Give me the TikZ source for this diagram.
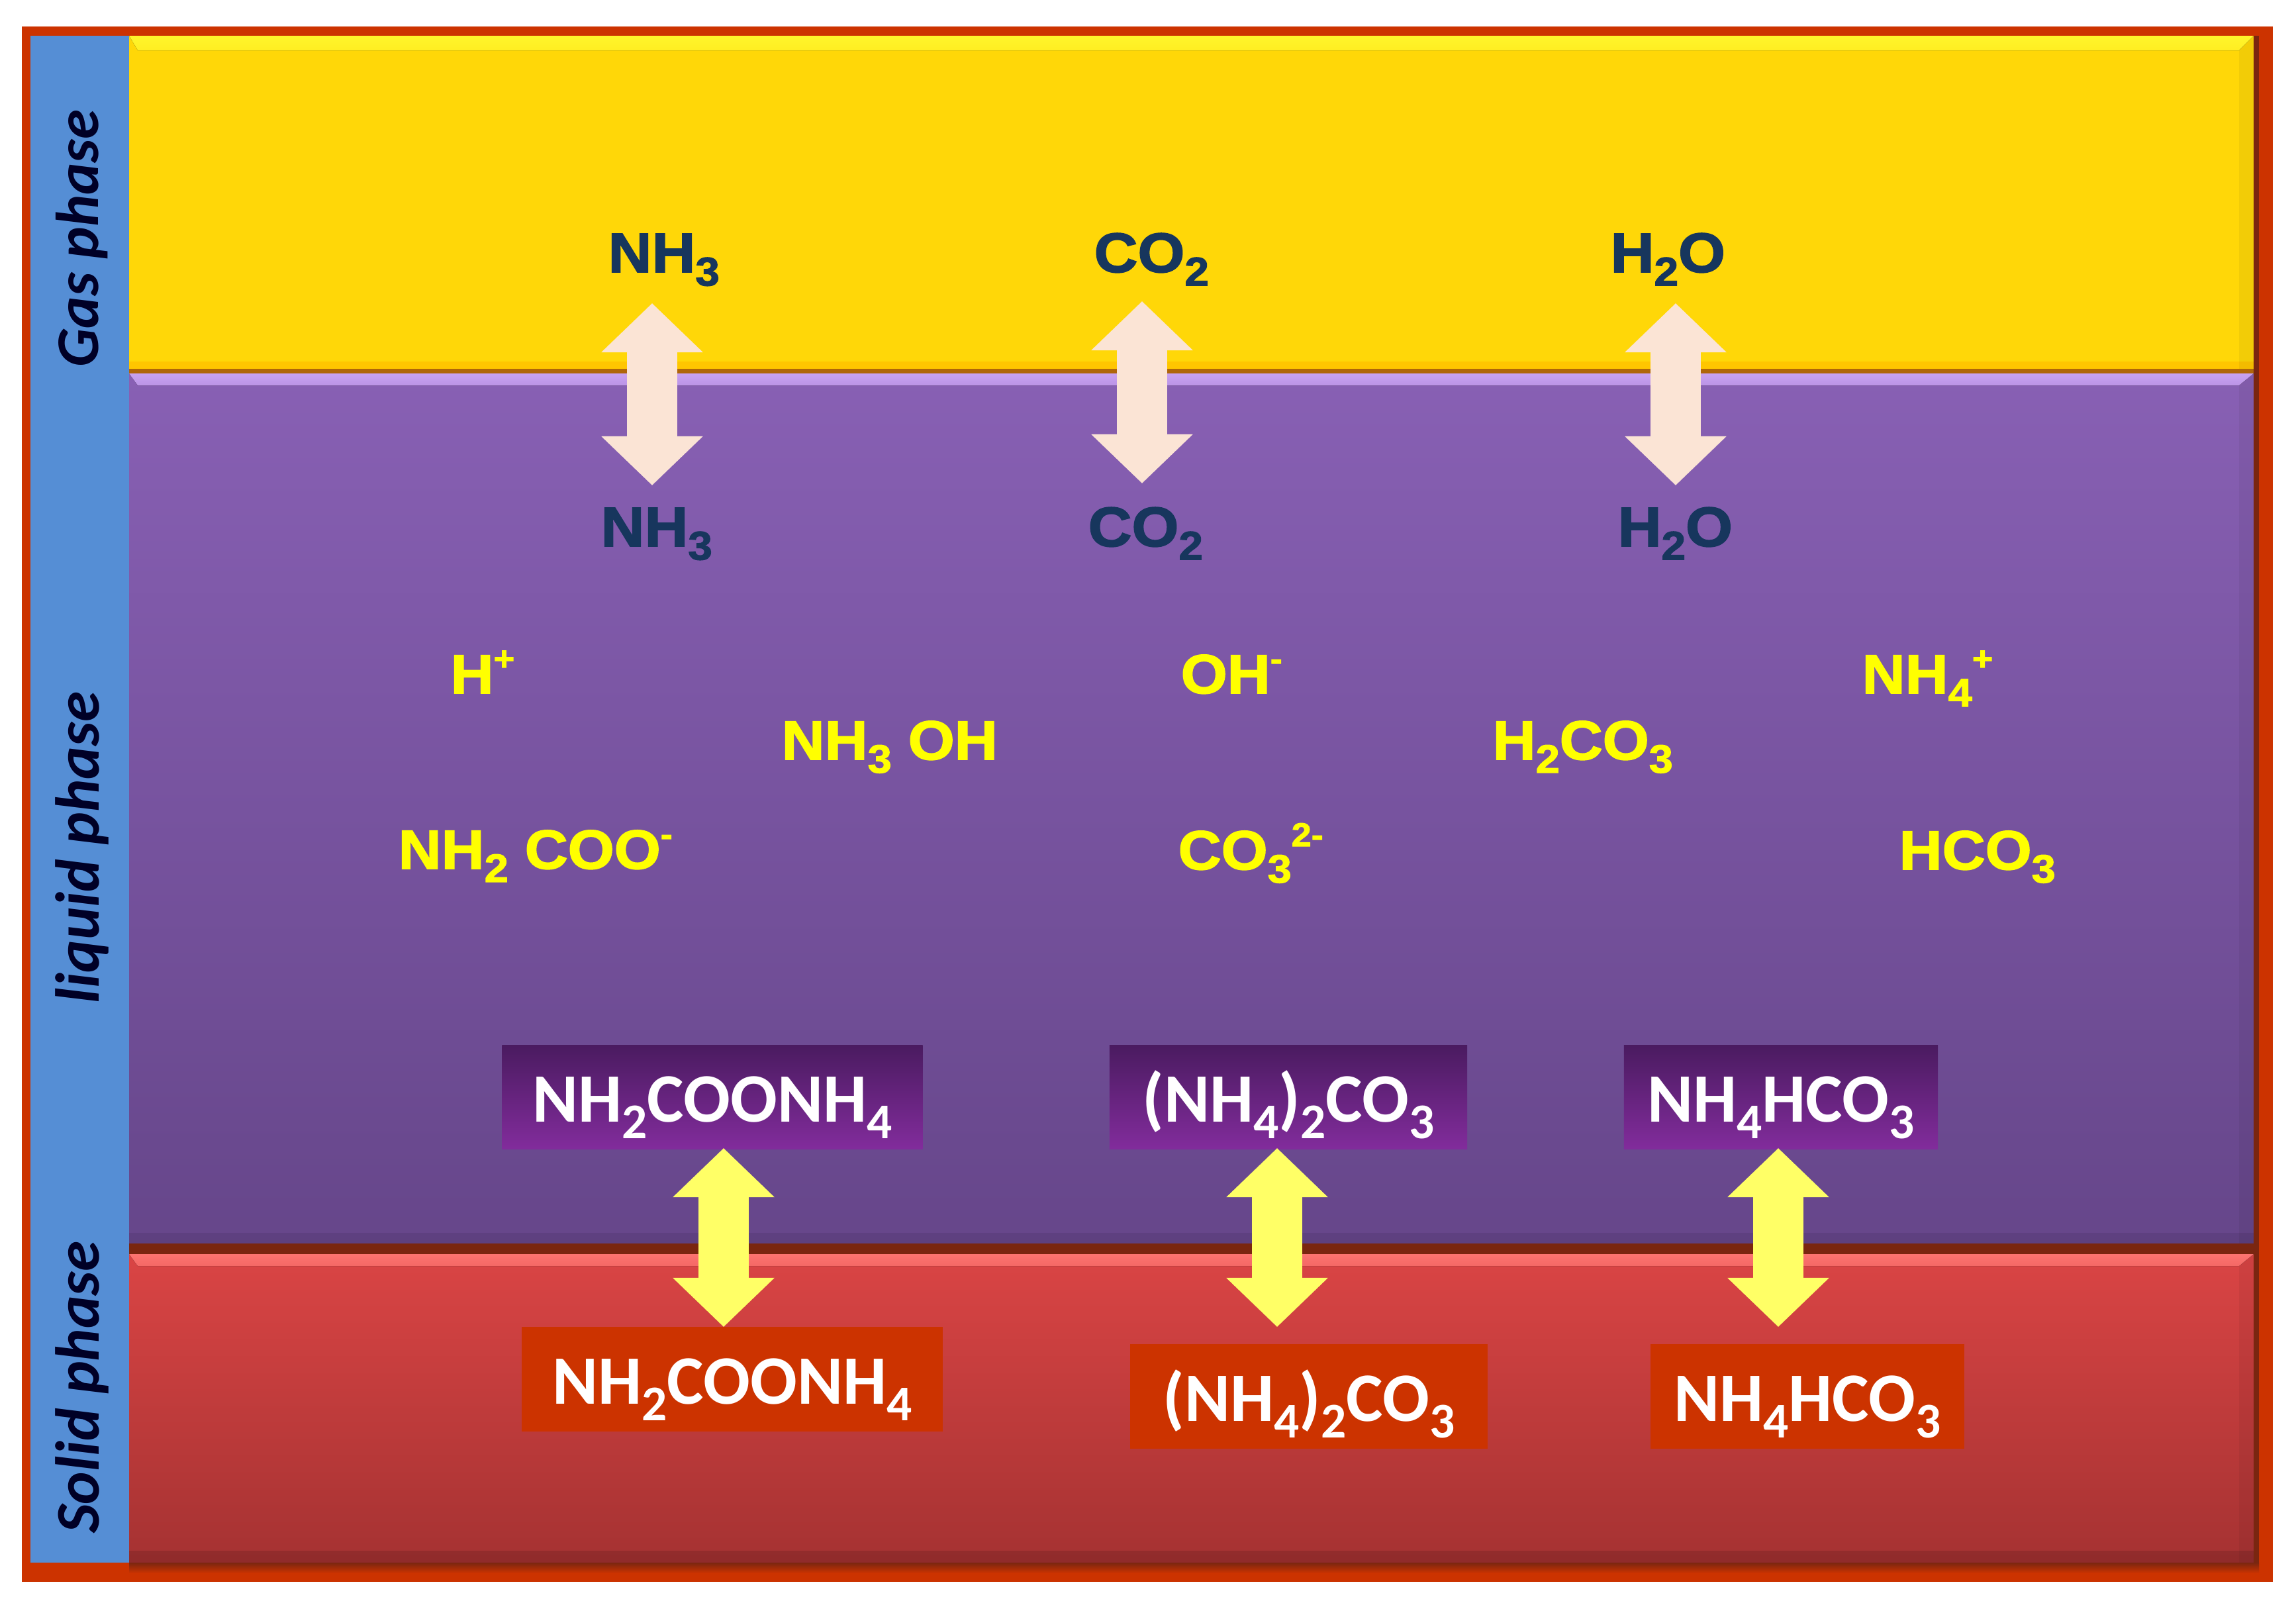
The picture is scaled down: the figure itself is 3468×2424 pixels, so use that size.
\documentclass[tikz,border=0pt]{standalone}
\usepackage{fontspec}
\setmainfont{Carlito}
\newfontfamily\speciesfont[BoldFeatures={FakeStretch=1.08,FakeBold=2}]{Liberation Sans}
\usetikzlibrary{arrows.meta}
\definecolor{frameRed}{HTML}{CC3300}
\definecolor{frameShadow}{HTML}{7A2610}
\definecolor{sideBlue}{HTML}{558ED5}
\definecolor{gasYellow}{HTML}{FFD708}
\definecolor{gasLight}{HTML}{FFF52B}
\definecolor{gasEdge}{HTML}{FFC600}
\definecolor{liquidLight}{HTML}{C8A2F2}
\definecolor{liquidTop}{HTML}{8860B4}
\definecolor{liquidBottom}{HTML}{66468A}
\definecolor{solidLight}{HTML}{FC7470}
\definecolor{solidTop}{HTML}{DB4545}
\definecolor{solidBottom}{HTML}{A53232}
\definecolor{boxTop}{HTML}{4A1B60}
\definecolor{boxBottom}{HTML}{822C9C}
\definecolor{speciesNavy}{HTML}{17365D}
\definecolor{speciesYellow}{HTML}{FFFF00}
\definecolor{arrowPeach}{HTML}{FBE4D5}
\definecolor{arrowYellow}{HTML}{FFFF66}
\newcommand{\chemsub}[1]{\raisebox{-0.24em}{\scalebox{0.72}{#1}}}
\newcommand{\chemsup}[1]{\raisebox{0.42em}{\scalebox{0.6}{#1}}}

\begin{document}
\begin{tikzpicture}
[x=0.01cm,y=-0.01cm,
  gasDecorate/.style={anchor=base west,font=\speciesfont\fontsize{24}{24}\selectfont\bfseries,text=speciesNavy,inner sep=0pt},%
  ionDecorate/.style={anchor=base west,font=\speciesfont\fontsize{23.7}{24}\selectfont\bfseries,text=speciesYellow,inner sep=0pt},%
  liquidBox/.style={top color=boxTop,bottom color=boxBottom,text=white,inner sep=0pt,text height=7.4mm,text depth=0pt,
    minimum width=6.35cm,minimum height=1.57cm,font=\fontsize{29.8}{30}\selectfont\bfseries},%
  solidBox/.style={fill=frameRed,text=white,inner sep=0pt,text height=7.4mm,text depth=0pt,
    minimum width=6.35cm,minimum height=1.57cm,font=\fontsize{29.8}{30}\selectfont\bfseries},%
  sideLabel/.style={rotate=90,font=\fontsize{26.7}{27}\selectfont\bfseries\itshape,text=black!85!blue,inner sep=0pt},%
  gasArrow/.style={draw=arrowPeach,line width=7.6mm,{Triangle[length=7.4mm,width=14.9mm]}-{Triangle[length=7.4mm,width=14.9mm]}},%
  solidArrow/.style={draw=arrowYellow,line width=7.6mm,{Triangle[length=7.4mm,width=14.9mm]}-{Triangle[length=7.4mm,width=14.9mm]}}]
\useasboundingbox (0,0) rectangle (3468,2424);
%% frame and bands
\fill[frameRed] (33,40) rectangle (3433,2389);
\fill[sideBlue] (46,54) rectangle (195,2360);
\fill[gasYellow] (195,54) rectangle (3404,564);
\fill[gasEdge] (195,546) rectangle (3404,558);
\fill[top color=liquidTop,bottom color=liquidBottom] (195,564) rectangle (3404,1885);
\fill[top color=solidTop,bottom color=solidBottom] (195,1885) rectangle (3404,2360);
%% bevels
\fill[black,opacity=0.05] (3382,54) rectangle (3404,2360);
\fill[black,opacity=0.12] (195,2342) rectangle (3404,2360);
\fill[black,opacity=0.08] (195,1862) rectangle (3404,1878);
\fill[top color=gasLight,bottom color=gasLight!75!gasYellow] (195,54) -- (3404,54) -- (3382,76) -- (208,76) -- cycle;
\fill[frameShadow!60!gasEdge] (195,557) rectangle (3404,564);
\fill[top color=liquidLight,bottom color=liquidLight!80!liquidTop] (195,564) -- (3404,564) -- (3382,582) -- (208,582) -- cycle;
\fill[frameShadow] (195,1878) rectangle (3404,1894);
\fill[top color=solidLight,bottom color=solidLight!75!solidTop] (195,1894) -- (3404,1894) -- (3382,1912) -- (208,1912) -- cycle;
\fill[frameShadow] (3404,54) rectangle (3412,2368);
\fill[top color=frameShadow,bottom color=frameRed] (195,2360) rectangle (3412,2376);
%% side labels
\node (gaslabel) at (124,360) [sideLabel,font=\fontsize{26}{27}\selectfont\bfseries\itshape] {Gas phase};
\foreach \nodename/\y/\txt in {liquidlabel/1280/liquid phase, solidlabel/2095/Solid phase}
{
  \node (\nodename) at (124,\y) [sideLabel] {\txt};
}
%% species
\foreach \nodename/\x/\y/\txt in {
  gasa/918/411/NH\chemsub{3}, gasb/1652/411/CO\chemsub{2}, gasc/2432/411/H\chemsub{2}O,
  lqa/907/825/NH\chemsub{3}, lqb/1643/825/CO\chemsub{2}, lqc/2443/825/H\chemsub{2}O}
{
  \node (\nodename) at (\x,\y) [gasDecorate] {\txt};
}
\foreach \nodename/\x/\y/\txt in {
  ionh/680/1047/H\chemsup{+}, ionoh/1783/1047/OH\chemsup{-}, ionnh/2812/1047/NH\chemsub{4}\chemsup{+},
  nhoh/1180/1147/NH\chemsub{3} OH, hco/2254/1147/H\chemsub{2}CO\chemsub{3},
  nhcoo/601/1312/NH\chemsub{2} COO\chemsup{-}, cothree/1779/1313/CO\chemsub{3}\chemsup{2-}, hcothree/2868/1313/HCO\chemsub{3}}
{
  \node (\nodename) at (\x,\y) [ionDecorate] {\txt};
}
%% salt boxes
\node (boxla) at (1076,1657) [liquidBox] {NH\chemsub{2}COONH\chemsub{4}};
\node (boxlb) at (1946,1657) [liquidBox,minimum width=5.4cm] {(NH\chemsub{4})\chemsub{2}CO\chemsub{3}};
\node (boxlc) at (2690,1657) [liquidBox,minimum width=4.74cm] {NH\chemsub{4}HCO\chemsub{3}};
\node (boxsa) at (1106,2083) [solidBox] {NH\chemsub{2}COONH\chemsub{4}};
\node (boxsb) at (1977,2109) [solidBox,minimum width=5.4cm] {(NH\chemsub{4})\chemsub{2}CO\chemsub{3}};
\node (boxsc) at (2730,2109) [solidBox,minimum width=4.74cm] {NH\chemsub{4}HCO\chemsub{3}};
%% arrow ends
\foreach \arrowname/\x/\ya/\yb in {
  ga/985/458/733, gb/1725/455/730, gc/2531/458/733,
  sa/1093/1734/2004, sb/1929/1734/2004, sc/2686/1734/2004}
{
  \coordinate (\arrowname top) at (\x,\ya);
  \coordinate (\arrowname bot) at (\x,\yb);
}
%% arrows
\foreach \startnode/\endnode in {gatop/gabot, gbtop/gbbot, gctop/gcbot}
{
  \draw[gasArrow] (\startnode) -- (\endnode);
}
\foreach \startnode/\endnode in {satop/sabot, sbtop/sbbot, sctop/scbot}
{
  \draw[solidArrow] (\startnode) -- (\endnode);
}
\end{tikzpicture}
\end{document}
